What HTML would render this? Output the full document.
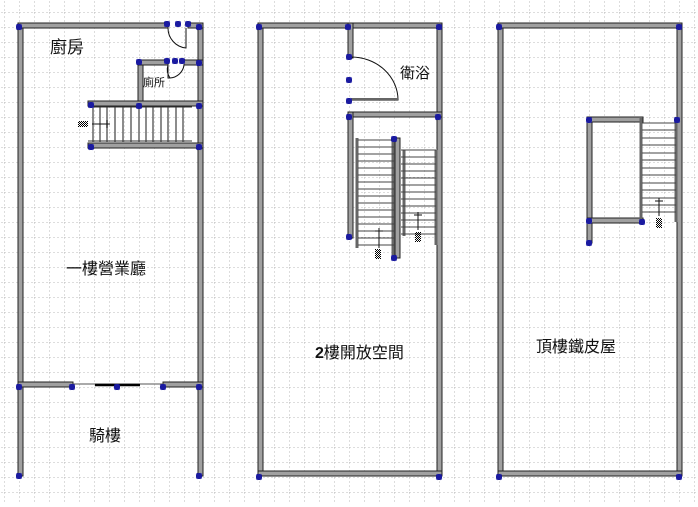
<!DOCTYPE html>
<html><head><meta charset="utf-8"><style>
html,body{margin:0;padding:0;background:#fff}
svg text{font-family:"Liberation Sans","Noto Sans CJK TC",sans-serif;fill:#111}
</style></head><body>
<svg width="698" height="502" viewBox="0 0 698 502" xmlns="http://www.w3.org/2000/svg">
<defs>
<pattern id="g" x="4" y="12" width="15" height="15" patternUnits="userSpaceOnUse">
<path d="M0 0V15M0 0H15" stroke="#bbb" stroke-width="1" stroke-dasharray="2,2" fill="none"/>
</pattern>
<pattern id="chk" width="2" height="2" patternUnits="userSpaceOnUse"><rect width="1" height="1" fill="#000"/><rect x="1" y="1" width="1" height="1" fill="#000"/></pattern>
<g id="m"><path d="M-2.5 -2.5L2.5 2.5M2.5 -2.5L-2.5 2.5M0 -3V3M-3 0H3" stroke="#1a1aa0" stroke-width="2"/></g>
</defs>
<rect width="698" height="502" fill="#fff"/>
<rect width="698" height="502" fill="url(#g)"/>
<g fill="#a0a0a0" stroke="#222" stroke-width="1">
<rect x="18" y="23" width="5" height="453"/>
<rect x="198" y="23" width="5" height="453"/>
<rect x="18" y="23" width="150" height="5"/>
<rect x="188" y="23" width="15" height="5"/>
<rect x="138" y="60" width="5" height="46"/>
<rect x="138" y="60" width="30" height="5"/>
<rect x="184" y="60" width="19" height="5"/>
<rect x="88" y="101" width="115" height="5"/>
<rect x="88" y="143" width="115" height="5"/>
<rect x="18" y="382" width="55" height="5"/>
<rect x="163" y="382" width="40" height="5"/>
<rect x="258" y="23" width="5" height="453"/>
<rect x="437" y="23" width="5" height="453"/>
<rect x="258" y="23" width="184" height="5"/>
<rect x="258" y="471" width="184" height="5"/>
<rect x="348" y="23" width="5" height="35"/>
<rect x="348" y="112" width="94" height="5"/>
<rect x="348" y="112" width="5" height="126"/>
<rect x="395" y="138" width="5" height="120"/>
<rect x="498" y="23" width="5" height="453"/>
<rect x="677" y="23" width="5" height="453"/>
<rect x="498" y="23" width="184" height="5"/>
<rect x="498" y="471" width="184" height="5"/>
<rect x="587" y="117" width="5" height="126"/>
<rect x="587" y="117" width="56" height="5"/>
<rect x="587" y="218" width="56" height="5"/>
</g>
<path d="M168 28 A20 20 0 0 0 186 48 V28" fill="none" stroke="#111"/>
<path d="M168 65 A15 15 0 0 0 170 78 M168 65 V78 H170 M170 78 A15 15 0 0 0 184 65" fill="none" stroke="#111"/>
<line x1="73" y1="384" x2="163" y2="384" stroke="#555"/>
<line x1="95" y1="385" x2="140" y2="385" stroke="#000" stroke-width="2.5"/>
<g stroke="#666" stroke-width="1.5">
<line x1="93" y1="107" x2="93" y2="142"/><line x1="100" y1="107" x2="100" y2="142"/><line x1="107" y1="107" x2="107" y2="142"/><line x1="115" y1="107" x2="115" y2="142"/><line x1="123" y1="107" x2="123" y2="142"/><line x1="131" y1="107" x2="131" y2="142"/><line x1="139" y1="107" x2="139" y2="142"/><line x1="146" y1="107" x2="146" y2="142"/><line x1="153" y1="107" x2="153" y2="142"/><line x1="161" y1="107" x2="161" y2="142"/><line x1="168" y1="107" x2="168" y2="142"/><line x1="176" y1="107" x2="176" y2="142"/><line x1="183" y1="107" x2="183" y2="142"/>
</g>
<line x1="88" y1="107" x2="192" y2="107" stroke="#333"/><line x1="88" y1="141" x2="192" y2="141" stroke="#333"/>
<path d="M92 124H110M107 120V128" stroke="#111" fill="none"/>
<rect x="78" y="121" width="10" height="6" fill="url(#chk)"/>
<path d="M351 57 A47 43 0 0 1 398 100 H351" fill="none" stroke="#111"/>
<rect x="351" y="98" width="47" height="2" fill="#666"/>
<g stroke="#444" stroke-width="1">
<path d="M357 138V248M393 138V258M404 150V236M436 150V245" stroke="#666" stroke-width="3"/>
<path d="M358 140H394M358 147H394M358 154H394M358 161H394M358 168H394M358 175H394M358 182H394M358 189H394M358 196H394M358 203H394M358 210H394M358 217H394M358 224H394M358 231H394M358 238H394M358 245H394"/>
<path d="M401 150H436M401 157H436M401 164H436M401 171H436M401 178H436M401 185H436M401 192H436M401 199H436M401 206H436M401 213H436M401 220H436M401 227H436M401 234H436"/>
</g>
<path d="M379 248V228M375 231H383M418 230V212M414 215H422" stroke="#111" fill="none"/>
<rect x="375" y="249" width="6" height="10" fill="url(#chk)"/>
<rect x="415" y="232" width="6" height="10" fill="url(#chk)"/>
<g stroke="#444" stroke-width="1">
<path d="M641 117V220M676 117V222" stroke="#666" stroke-width="3"/>
<path d="M642 123H676M642 130H676M642 138H676M642 145H676M642 153H676M642 160H676M642 168H676M642 175H676M642 183H676M642 190H676M642 198H676M642 205H676M642 212H676"/>
</g>
<path d="M659 216V198M655 201H663" stroke="#111" fill="none"/>
<rect x="656" y="218" width="6" height="10" fill="url(#chk)"/>
<g>
<use href="#m" x="19" y="27"/><use href="#m" x="167" y="24"/><use href="#m" x="178" y="24"/><use href="#m" x="188" y="24"/><use href="#m" x="199" y="27"/>
<use href="#m" x="139" y="62"/><use href="#m" x="167" y="61"/><use href="#m" x="175" y="61"/><use href="#m" x="182" y="61"/><use href="#m" x="199" y="63"/>
<use href="#m" x="91" y="105"/><use href="#m" x="139" y="106"/><use href="#m" x="199" y="106"/><use href="#m" x="91" y="147"/><use href="#m" x="199" y="147"/>
<use href="#m" x="19" y="387"/><use href="#m" x="72" y="387"/><use href="#m" x="117" y="387"/><use href="#m" x="163" y="387"/><use href="#m" x="199" y="387"/>
<use href="#m" x="19" y="476"/><use href="#m" x="199" y="476"/>
<use href="#m" x="259" y="27"/><use href="#m" x="348" y="27"/><use href="#m" x="439" y="27"/>
<use href="#m" x="349" y="57"/><use href="#m" x="349" y="80"/><use href="#m" x="349" y="101"/><use href="#m" x="349" y="117"/><use href="#m" x="438" y="117"/>
<use href="#m" x="394" y="139"/><use href="#m" x="349" y="237"/><use href="#m" x="394" y="258"/>
<use href="#m" x="259" y="477"/><use href="#m" x="439" y="477"/>
<use href="#m" x="499" y="27"/><use href="#m" x="679" y="27"/><use href="#m" x="499" y="477"/><use href="#m" x="679" y="477"/>
<use href="#m" x="589" y="120"/><use href="#m" x="677" y="120"/><use href="#m" x="589" y="221"/><use href="#m" x="642" y="222"/><use href="#m" x="589" y="243"/>
</g>
<text x="50" y="53" font-size="17">廚房</text>
<text x="143" y="86" font-size="11">廁所</text>
<text x="66" y="274" font-size="16">一樓營業廳</text>
<text x="89" y="441" font-size="16">騎樓</text>
<text x="400" y="78" font-size="15">衛浴</text>
<text x="315" y="358" font-size="16"><tspan font-weight="bold">2</tspan>樓開放空間</text>
<text x="536" y="352" font-size="16">頂樓鐵皮屋</text>
</svg>
</body></html>
